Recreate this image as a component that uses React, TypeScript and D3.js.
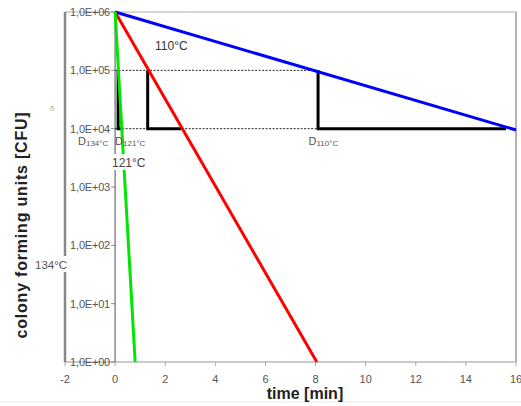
import React from "react";
import * as d3 from "d3";

const xTicks = [-2, 0, 2, 4, 6, 8, 10, 12, 14, 16];
const yTicks = [1, 10, 100, 1000, 10000, 100000, 1000000];
const yTickLabels = ["1,0E+00", "1,0E+01", "1,0E+02", "1,0E+03", "1,0E+04", "1,0E+05", "1,0E+06"];

const t110 = [0, 16];
const v110 = [1e6, 9.5e3];
const t121 = [0, 8.05];
const v121 = [1e6, 1];
const t134 = [0, 0.8];
const v134 = [1e6, 1];

const dSubs = ["110°C", "121°C", "134°C"];
const dStart = [8.1, 1.3, 0.12];
const dEnd = [15.6, 2.65, 0.27];
const dLabelX = [7.72, 0.0, -1.48];

const W = 521, H = 406;

export default function App() {
  const x = d3.scaleLinear().domain([-2, 16]).range([65, 516]);
  const y = d3.scaleLog().domain([1, 1e6]).range([362, 12]);
  const line = d3.line<[number, number]>().x(d => x(d[0])).y(d => y(d[1]));
  const mk = (t: number[], v: number[]) => line(t.map((tt, i) => [tt, v[i]] as [number, number])) || "";

  const font = "Arial, 'Liberation Sans', sans-serif";

  return (
    <svg width={W} height={H} style={{ position: "absolute", left: 0, top: 0, background: "#fff" }} fontFamily={font}>
      <rect x={0} y={0} width={W} height={H} fill="#fff" />
      <line x1={0} x2={W} y1={402} y2={402} stroke="#e6e6e6" />
      {/* frame */}
      <line x1={x(-2)} x2={x(16)} y1={y(1e6)} y2={y(1e6)} stroke="#c8c8c8" strokeWidth={1.5} />
      <line x1={x(16)} x2={x(16)} y1={y(1e6)} y2={y(1)} stroke="#999" strokeWidth={1.5} />
      <line x1={x(-2)} x2={x(16)} y1={y(1)} y2={y(1)} stroke="#b8b8b8" strokeWidth={1.5} />
      {/* y tick labels */}
      {yTicks.map((v, i) => (
        <text key={"yl" + i} x={110} y={y(v) + 4} fontSize={11} fill="#555" textAnchor="end" letterSpacing={-0.2}>{yTickLabels[i]}</text>
      ))}
      <line x1={x(-2)} x2={x(-2)} y1={y(1e6)} y2={y(1)} stroke="#888" strokeWidth={2.5} />
      {/* y axis at 0 */}
      <line x1={x(0)} x2={x(0)} y1={y(1e6)} y2={y(1)} stroke="#888" strokeWidth={1.5} />
      {yTicks.map((v, i) => (
        <line key={"yt" + i} x1={x(0) - 4} x2={x(0)} y1={y(v)} y2={y(v)} stroke="#888" />
      ))}
      {xTicks.map((t, i) => (
        <g key={"xt" + i}>
          <line x1={x(t)} x2={x(t)} y1={y(1)} y2={y(1) + 4} stroke="#aaa" />
          <text x={x(t)} y={y(1) + 21} fontSize={11} fill="#555" textAnchor="middle">{t}</text>
        </g>
      ))}
      {/* dotted reference lines */}
      <line x1={x(0)} x2={x(dStart[0])} y1={y(1e5)} y2={y(1e5)} stroke="#222" strokeDasharray="2,1.5" strokeWidth={1} />
      <line x1={x(0)} x2={x(dStart[0])} y1={y(1e4)} y2={y(1e4)} stroke="#222" strokeDasharray="2,1.5" strokeWidth={1} />
      {/* D-value brackets */}
      {dStart.map((d, i) => (
        <path key={"br" + i}
          d={`M${x(d)},${y(1e5)}L${x(d)},${y(1e4)}L${x(dEnd[i])},${y(1e4)}`}
          fill="none" stroke="#000" strokeWidth={3} />
      ))}
      {/* curves */}
      <path d={mk(t110, v110)} fill="none" stroke="#0000ff" strokeWidth={3} />
      <path d={mk(t121, v121)} fill="none" stroke="#ff0000" strokeWidth={3} />
      <path d={mk(t134, v134)} fill="none" stroke="#00e600" strokeWidth={3} />
      {/* D labels */}
      {dSubs.map((s, i) => (
        <text key={"dl" + i} x={x(dLabelX[i])} y={y(1e4) + 16} fill="#555" fontSize={11}>
          D<tspan fontSize={8} dy={1}>{s}</tspan>
        </text>
      ))}
      {/* temperature labels */}
      <text x={155} y={50} fontSize={12} fill="#333">110°C</text>
      <rect x={110} y={154} width={40} height={16} fill="#fff" />
      <text x={112} y={167} fontSize={12} fill="#444">121°C</text>
      <rect x={33} y={256} width={38} height={16} fill="#fff" />
      <text x={35} y={269} fontSize={11.5} fill="#555">134°C</text>
      <text x={50} y={111} fontSize={8} fill="#aaa">δ</text>
      {/* axis titles */}
      <text transform="translate(27,225) rotate(-90)" fontSize={16} fontWeight="bold" fill="#222" textAnchor="middle" letterSpacing={0.8}>colony forming units [CFU]</text>
      <text x={305} y={399} fontSize={16} fontWeight="bold" fill="#222" textAnchor="middle">time [min]</text>
    </svg>
  );
}
